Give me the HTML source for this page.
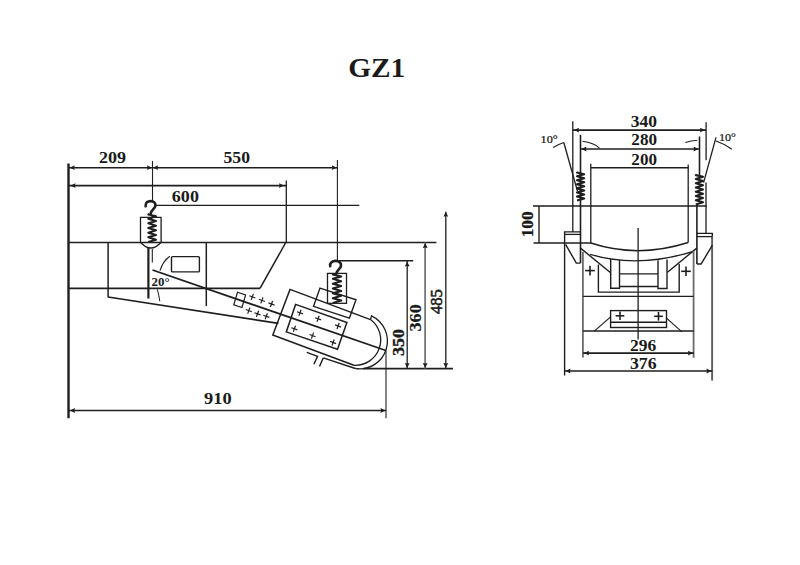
<!DOCTYPE html>
<html><head><meta charset="utf-8"><style>
html,body{margin:0;padding:0;background:#fff;width:800px;height:565px;overflow:hidden}
svg{display:block}
text{font-family:"Liberation Serif",serif;fill:#1a1a1a}
</style></head><body>
<svg width="800" height="565" viewBox="0 0 800 565">
<rect width="800" height="565" fill="#fff"/>
<line x1="68.5" y1="163.5" x2="68.5" y2="418.2" stroke="#1e1e1e" stroke-width="2.4"/>
<line x1="69" y1="167.7" x2="337.3" y2="167.7" stroke="#1e1e1e" stroke-width="1.6"/>
<polygon points="69.7,167.7 74.70,165.30 74.10,167.70 74.70,170.10" fill="#1e1e1e"/>
<polygon points="152,167.7 147.00,170.10 147.60,167.70 147.00,165.30" fill="#1e1e1e"/>
<polygon points="153,167.7 158.00,165.30 157.40,167.70 158.00,170.10" fill="#1e1e1e"/>
<polygon points="336.8,167.7 331.80,170.10 332.40,167.70 331.80,165.30" fill="#1e1e1e"/>
<line x1="152.5" y1="161" x2="152.5" y2="201.5" stroke="#1e1e1e" stroke-width="1.1"/>
<line x1="337.4" y1="160" x2="337.4" y2="261" stroke="#1e1e1e" stroke-width="1.1"/>
<line x1="69" y1="185.6" x2="286.2" y2="185.6" stroke="#1e1e1e" stroke-width="1.6"/>
<polygon points="70.5,185.6 75.50,183.20 74.90,185.60 75.50,188.00" fill="#1e1e1e"/>
<polygon points="284,185.6 279.00,188.00 279.60,185.60 279.00,183.20" fill="#1e1e1e"/>
<line x1="286.3" y1="180.6" x2="286.3" y2="242.5" stroke="#1e1e1e" stroke-width="1.3"/>
<line x1="154.4" y1="205.3" x2="359.3" y2="205.3" stroke="#1e1e1e" stroke-width="1.3"/>
<line x1="68.5" y1="242.5" x2="436.4" y2="242.5" stroke="#1e1e1e" stroke-width="1.7"/>
<line x1="68.5" y1="288.3" x2="260" y2="288.3" stroke="#1e1e1e" stroke-width="1.7"/>
<line x1="260" y1="288.3" x2="285.8" y2="242.5" stroke="#1e1e1e" stroke-width="1.5"/>
<line x1="108.1" y1="242.5" x2="108.1" y2="297.2" stroke="#1e1e1e" stroke-width="1.5"/>
<line x1="206.3" y1="242.5" x2="206.3" y2="306" stroke="#1e1e1e" stroke-width="1.5"/>
<line x1="108.1" y1="297" x2="278.5" y2="323.3" stroke="#1e1e1e" stroke-width="1.7"/>
<rect x="171.5" y="256.6" width="27.9" height="15.3" rx="1" fill="none" stroke="#1e1e1e" stroke-width="1.4"/>
<line x1="148.4" y1="248" x2="148.4" y2="298.5" stroke="#1e1e1e" stroke-width="2.2"/>
<line x1="152.3" y1="249" x2="152.3" y2="262.5" stroke="#1e1e1e" stroke-width="1.1"/>
<path d="M140.5,217.3 L161.1,217.3 L161.1,242.2 Q156,248 150.8,248 Q145.6,248 140.5,242.2 Z" fill="none" stroke="#1e1e1e" stroke-width="1.3"/>
<path d="M149.30,214.00 L148.30,214.47 L156.00,216.33 L148.30,218.67 L156.00,221.00 L148.30,223.33 L156.00,225.67 L148.30,228.00 L156.00,230.33 L148.30,232.67 L156.00,235.00 L148.30,237.33 L156.00,239.67 L148.30,242.00" fill="none" stroke="#1e1e1e" stroke-width="2.0" stroke-linejoin="round"/>
<path d="M145.6,206.3 C145.2,202.6 147.6,201.1 150.6,201.1 C153.9,201.1 155.6,203.1 155.5,205.4 C155.3,208.6 151.2,209.8 150.6,213.8" fill="none" stroke="#1e1e1e" stroke-width="2.6" stroke-linecap="round"/>
<line x1="152.5" y1="270" x2="385.9" y2="350.5" stroke="#1e1e1e" stroke-width="1.8"/>
<path d="M160,270.6 Q163,261 169.8,256.2" fill="none" stroke="#1e1e1e" stroke-width="1.1"/>
<path d="M157.3,289.4 Q159,295 159.8,301.3" fill="none" stroke="#1e1e1e" stroke-width="1.0"/>
<polygon points="237.5,292.25 245.6,295.0 242.0,307.5 233.8,304.8" fill="none" stroke="#1e1e1e" stroke-width="1.2"/>
<line x1="249.29" y1="295.81" x2="255.31" y2="297.99" stroke="#1e1e1e" stroke-width="1.2"/>
<line x1="253.39" y1="293.89" x2="251.21" y2="299.91" stroke="#1e1e1e" stroke-width="1.2"/>
<line x1="258.89" y1="299.31" x2="264.91" y2="301.49" stroke="#1e1e1e" stroke-width="1.2"/>
<line x1="262.99" y1="297.39" x2="260.81" y2="303.41" stroke="#1e1e1e" stroke-width="1.2"/>
<line x1="268.49" y1="302.91" x2="274.51" y2="305.09" stroke="#1e1e1e" stroke-width="1.2"/>
<line x1="272.59" y1="300.99" x2="270.41" y2="307.01" stroke="#1e1e1e" stroke-width="1.2"/>
<line x1="245.79" y1="309.51" x2="251.81" y2="311.69" stroke="#1e1e1e" stroke-width="1.2"/>
<line x1="249.89" y1="307.59" x2="247.71" y2="313.61" stroke="#1e1e1e" stroke-width="1.2"/>
<line x1="254.49" y1="312.71" x2="260.51" y2="314.89" stroke="#1e1e1e" stroke-width="1.2"/>
<line x1="258.59" y1="310.79" x2="256.41" y2="316.81" stroke="#1e1e1e" stroke-width="1.2"/>
<line x1="263.29" y1="315.21" x2="269.31" y2="317.39" stroke="#1e1e1e" stroke-width="1.2"/>
<line x1="267.39" y1="313.29" x2="265.21" y2="319.31" stroke="#1e1e1e" stroke-width="1.2"/>
<polyline points="370.5,319.6 290,289.4 272.8,335 353.9,365.3" fill="none" stroke="#1e1e1e" stroke-width="1.5"/>
<polygon points="295.6,304.4 346.9,322.5 337.5,349.3 286.3,331.9" fill="none" stroke="#1e1e1e" stroke-width="1.5"/>
<line x1="296.99" y1="311.71" x2="303.01" y2="313.89" stroke="#1e1e1e" stroke-width="1.2"/>
<line x1="301.09" y1="309.79" x2="298.91" y2="315.81" stroke="#1e1e1e" stroke-width="1.2"/>
<line x1="315.09" y1="317.71" x2="321.11" y2="319.89" stroke="#1e1e1e" stroke-width="1.2"/>
<line x1="319.19" y1="315.79" x2="317.01" y2="321.81" stroke="#1e1e1e" stroke-width="1.2"/>
<line x1="335.09" y1="324.91" x2="341.11" y2="327.09" stroke="#1e1e1e" stroke-width="1.2"/>
<line x1="339.19" y1="322.99" x2="337.01" y2="329.01" stroke="#1e1e1e" stroke-width="1.2"/>
<line x1="291.39" y1="327.71" x2="297.41" y2="329.89" stroke="#1e1e1e" stroke-width="1.2"/>
<line x1="295.49" y1="325.79" x2="293.31" y2="331.81" stroke="#1e1e1e" stroke-width="1.2"/>
<line x1="309.49" y1="334.51" x2="315.51" y2="336.69" stroke="#1e1e1e" stroke-width="1.2"/>
<line x1="313.59" y1="332.59" x2="311.41" y2="338.61" stroke="#1e1e1e" stroke-width="1.2"/>
<line x1="330.09" y1="341.41" x2="336.11" y2="343.59" stroke="#1e1e1e" stroke-width="1.2"/>
<line x1="334.19" y1="339.49" x2="332.01" y2="345.51" stroke="#1e1e1e" stroke-width="1.2"/>
<polygon points="320,288.1 356,299.8 349.4,318.1 313.5,306.3" fill="none" stroke="#1e1e1e" stroke-width="1.4"/>
<rect x="327.5" y="273.4" width="19" height="29.9" fill="none" stroke="#1e1e1e" stroke-width="1.3"/>
<path d="M333.80,274.00 L332.80,274.48 L341.20,276.42 L332.80,278.83 L341.20,281.25 L332.80,283.67 L341.20,286.08 L332.80,288.50 L341.20,290.92 L332.80,293.33 L341.20,295.75 L332.80,298.17 L341.20,300.58 L332.80,303.00" fill="none" stroke="#1e1e1e" stroke-width="2.0" stroke-linejoin="round"/>
<path d="M330.2,266.2 C329.6,262.5 332.4,260.9 335.6,260.9 C339.2,260.9 341.2,263 341,265.6 C340.8,268.8 336.6,270 336,274.2" fill="none" stroke="#1e1e1e" stroke-width="2.6" stroke-linecap="round"/>
<line x1="338.5" y1="260.8" x2="413.2" y2="260.8" stroke="#1e1e1e" stroke-width="1.5"/>
<path d="M370.5,319.6 A25.4,25.4 0 0 1 353.9,365.3" fill="none" stroke="#1e1e1e" stroke-width="1.3"/>
<path d="M370.5,319.6 L371.5,315.9 A27.8,27.8 0 0 1 355.3,368.5" fill="none" stroke="#1e1e1e" stroke-width="1.3"/>
<line x1="323.3" y1="357.9" x2="355.3" y2="368.5" stroke="#1e1e1e" stroke-width="1.4"/>
<polyline points="306.8,352.3 317.6,356.4 313.9,364.3" fill="none" stroke="#1e1e1e" stroke-width="1.4"/>
<line x1="323.3" y1="357.9" x2="319.5" y2="366.5" stroke="#1e1e1e" stroke-width="1.4"/>
<line x1="386.0" y1="350.5" x2="386.0" y2="418.2" stroke="#1e1e1e" stroke-width="1.1"/>
<line x1="363" y1="368.6" x2="453" y2="368.6" stroke="#1e1e1e" stroke-width="1.7"/>
<line x1="407.2" y1="261" x2="407.2" y2="368.5" stroke="#1e1e1e" stroke-width="1.3"/>
<polygon points="407.2,261.5 409.60,266.50 407.20,265.90 404.80,266.50" fill="#1e1e1e"/>
<polygon points="407.2,368 404.80,363.00 407.20,363.60 409.60,363.00" fill="#1e1e1e"/>
<line x1="425.1" y1="242.5" x2="425.1" y2="368.5" stroke="#707070" stroke-width="1.7"/>
<polygon points="425.2,243 427.60,248.00 425.20,247.40 422.80,248.00" fill="#1e1e1e"/>
<polygon points="425.2,368 422.80,363.00 425.20,363.60 427.60,363.00" fill="#1e1e1e"/>
<line x1="445.8" y1="211.7" x2="445.8" y2="368.5" stroke="#1e1e1e" stroke-width="1.3"/>
<polygon points="445.8,211.7 448.20,216.70 445.80,216.10 443.40,216.70" fill="#1e1e1e"/>
<polygon points="445.8,368 443.40,363.00 445.80,363.60 448.20,363.00" fill="#1e1e1e"/>
<line x1="69" y1="410.5" x2="386.0" y2="410.5" stroke="#1e1e1e" stroke-width="1.6"/>
<polygon points="70,410.5 75.00,408.10 74.40,410.50 75.00,412.90" fill="#1e1e1e"/>
<polygon points="385.5,410.5 380.50,412.90 381.10,410.50 380.50,408.10" fill="#1e1e1e"/>
<line x1="572.8" y1="121.3" x2="572.8" y2="231.9" stroke="#1e1e1e" stroke-width="1.3"/>
<line x1="580.5" y1="134.8" x2="580.5" y2="263.1" stroke="#1e1e1e" stroke-width="1.6"/>
<line x1="590.8" y1="163.8" x2="590.8" y2="243" stroke="#1e1e1e" stroke-width="1.3"/>
<line x1="706.1" y1="122.3" x2="706.1" y2="160.3" stroke="#1e1e1e" stroke-width="1.3"/>
<line x1="706" y1="182.6" x2="706" y2="233.4" stroke="#1e1e1e" stroke-width="1.3"/>
<line x1="699.5" y1="136.5" x2="699.5" y2="176" stroke="#1e1e1e" stroke-width="1.6"/>
<line x1="696.9" y1="204" x2="696.9" y2="264" stroke="#1e1e1e" stroke-width="1.6"/>
<line x1="688.2" y1="164.6" x2="688.2" y2="242.5" stroke="#1e1e1e" stroke-width="1.3"/>
<line x1="573" y1="130.1" x2="706" y2="130.1" stroke="#1e1e1e" stroke-width="1.6"/>
<polygon points="574,130.1 579.00,127.70 578.40,130.10 579.00,132.50" fill="#1e1e1e"/>
<polygon points="705,130.1 700.00,132.50 700.60,130.10 700.00,127.70" fill="#1e1e1e"/>
<line x1="580.5" y1="149" x2="699.5" y2="149" stroke="#1e1e1e" stroke-width="1.6"/>
<polygon points="581.5,149 586.50,146.60 585.90,149.00 586.50,151.40" fill="#1e1e1e"/>
<polygon points="698.5,149 693.50,151.40 694.10,149.00 693.50,146.60" fill="#1e1e1e"/>
<line x1="590.8" y1="167.7" x2="688.2" y2="167.7" stroke="#1e1e1e" stroke-width="1.6"/>
<path d="M582.5,141.3 Q594,143 599.4,148.1" fill="none" stroke="#1e1e1e" stroke-width="1.1"/>
<path d="M685.3,142.5 Q691,140.6 697.3,140.3" fill="none" stroke="#1e1e1e" stroke-width="1.1"/>
<path d="M553.1,147.5 Q558,144.5 563.8,142.5" fill="none" stroke="#1e1e1e" stroke-width="1.1"/>
<line x1="563.8" y1="142.5" x2="577.5" y2="191.3" stroke="#1e1e1e" stroke-width="1.3"/>
<path d="M716,141 Q725,144 731.8,149.3" fill="none" stroke="#1e1e1e" stroke-width="1.1"/>
<line x1="716" y1="137.3" x2="703.6" y2="182.6" stroke="#1e1e1e" stroke-width="1.3"/>
<path d="M578.00,172.20 L577.00,172.60 L584.20,174.22 L577.00,176.24 L584.20,178.26 L577.00,180.29 L584.20,182.31 L577.00,184.33 L584.20,186.35 L577.00,188.37 L584.20,190.39 L577.00,192.41 L584.20,194.44 L577.00,196.46 L584.20,198.48 L577.00,200.50" fill="none" stroke="#1e1e1e" stroke-width="2.1" stroke-linejoin="round"/>
<path d="M696.80,174.70 L695.80,175.12 L703.00,176.82 L695.80,178.94 L703.00,181.06 L695.80,183.19 L703.00,185.31 L695.80,187.43 L703.00,189.55 L695.80,191.67 L703.00,193.79 L695.80,195.91 L703.00,198.04 L695.80,200.16 L703.00,202.28 L695.80,204.40" fill="none" stroke="#1e1e1e" stroke-width="2.1" stroke-linejoin="round"/>
<line x1="533" y1="206" x2="706.8" y2="206" stroke="#1e1e1e" stroke-width="1.5"/>
<line x1="533.5" y1="242.9" x2="590.8" y2="242.9" stroke="#1e1e1e" stroke-width="1.5"/>
<line x1="539" y1="206" x2="539" y2="242.9" stroke="#1e1e1e" stroke-width="1.4"/>
<polyline points="564.6,375.6 564.6,231.9 580.5,231.9" fill="none" stroke="#1e1e1e" stroke-width="1.4"/>
<line x1="564.6" y1="234.4" x2="580.5" y2="234.4" stroke="#1e1e1e" stroke-width="1.3"/>
<polyline points="565.6,244.4 576.3,263.1 580.5,263.1" fill="none" stroke="#1e1e1e" stroke-width="1.4"/>
<line x1="712.1" y1="236.6" x2="712.1" y2="380.6" stroke="#5e5e5e" stroke-width="1.9"/>
<polyline points="712.3,236.6 712.3,233.4 696.9,233.4" fill="none" stroke="#1e1e1e" stroke-width="1.4"/>
<line x1="696.9" y1="236.6" x2="712.3" y2="236.6" stroke="#1e1e1e" stroke-width="1.3"/>
<polyline points="712.3,245.3 701.1,264 696.9,264" fill="none" stroke="#1e1e1e" stroke-width="1.4"/>
<path d="M590.8,243 Q638,258.5 688.2,242.5" fill="none" stroke="#1e1e1e" stroke-width="1.5"/>
<path d="M590.2,254.4 Q638,268.6 692.5,251.6" fill="none" stroke="#1e1e1e" stroke-width="1.4"/>
<line x1="580.5" y1="248.1" x2="610.6" y2="272.8" stroke="#1e1e1e" stroke-width="1.4"/>
<line x1="696.8" y1="248.1" x2="667.5" y2="272.2" stroke="#1e1e1e" stroke-width="1.4"/>
<line x1="638.1" y1="228.1" x2="638.1" y2="339.4" stroke="#1e1e1e" stroke-width="1.3"/>
<line x1="582.9" y1="251.9" x2="582.9" y2="357.5" stroke="#6a6a6a" stroke-width="1.8"/>
<line x1="693.6" y1="251.3" x2="693.6" y2="357.8" stroke="#6a6a6a" stroke-width="1.8"/>
<polyline points="598.4,264.6 598.4,292.1 679.2,292.1 679.2,264" fill="none" stroke="#1e1e1e" stroke-width="1.4"/>
<polyline points="610.7,259 610.7,288.2 619.5,288.2 619.5,260" fill="none" stroke="#1e1e1e" stroke-width="1.4"/>
<polyline points="658,260.3 658,288.5 667,288.5 667,259.5" fill="none" stroke="#1e1e1e" stroke-width="1.4"/>
<line x1="619.5" y1="273.9" x2="658" y2="273.9" stroke="#1e1e1e" stroke-width="1.4"/>
<line x1="619.5" y1="286.5" x2="658" y2="286.5" stroke="#1e1e1e" stroke-width="1.4"/>
<line x1="585.2" y1="270.6" x2="594.8" y2="270.6" stroke="#1e1e1e" stroke-width="1.6"/>
<line x1="590.0" y1="265.8" x2="590.0" y2="275.4" stroke="#1e1e1e" stroke-width="1.6"/>
<line x1="681.2" y1="271.3" x2="690.8" y2="271.3" stroke="#1e1e1e" stroke-width="1.6"/>
<line x1="686.0" y1="266.5" x2="686.0" y2="276.1" stroke="#1e1e1e" stroke-width="1.6"/>
<line x1="583.1" y1="296.4" x2="693.6" y2="296.4" stroke="#1e1e1e" stroke-width="1.4"/>
<rect x="610.6" y="310.6" width="55.9" height="16.9" fill="none" stroke="#1e1e1e" stroke-width="1.4"/>
<line x1="610.6" y1="322.3" x2="666.5" y2="322.3" stroke="#1e1e1e" stroke-width="1.4"/>
<line x1="615.7" y1="315.8" x2="624.3" y2="315.8" stroke="#1e1e1e" stroke-width="1.6"/>
<line x1="620.0" y1="311.5" x2="620.0" y2="320.1" stroke="#1e1e1e" stroke-width="1.6"/>
<line x1="654.2" y1="316.3" x2="662.8" y2="316.3" stroke="#1e1e1e" stroke-width="1.6"/>
<line x1="658.5" y1="312.0" x2="658.5" y2="320.6" stroke="#1e1e1e" stroke-width="1.6"/>
<line x1="610.6" y1="316.9" x2="594.4" y2="331.1" stroke="#1e1e1e" stroke-width="1.2"/>
<line x1="666.5" y1="318.1" x2="681.9" y2="331.9" stroke="#1e1e1e" stroke-width="1.2"/>
<line x1="583.1" y1="331.1" x2="693.8" y2="331.1" stroke="#1e1e1e" stroke-width="1.5"/>
<line x1="583.1" y1="353.1" x2="693.8" y2="353.1" stroke="#1e1e1e" stroke-width="1.6"/>
<polygon points="584,353.1 589.00,350.70 588.40,353.10 589.00,355.50" fill="#1e1e1e"/>
<polygon points="693,353.1 688.00,355.50 688.60,353.10 688.00,350.70" fill="#1e1e1e"/>
<line x1="564.6" y1="371" x2="712.3" y2="371" stroke="#1e1e1e" stroke-width="1.6"/>
<polygon points="565.5,371 570.50,368.60 569.90,371.00 570.50,373.40" fill="#1e1e1e"/>
<polygon points="711.4,371 706.40,373.40 707.00,371.00 706.40,368.60" fill="#1e1e1e"/>
<text transform="translate(99.08 163.41) scale(1.046 1)" font-size="17.24" font-family="Liberation Serif" font-weight="bold">209</text>
<text transform="translate(223.49 163.41) scale(1.043 1)" font-size="16.94" font-family="Liberation Serif" font-weight="bold">550</text>
<text transform="translate(171.86 202.25) scale(1.042 1)" font-size="17.31" font-family="Liberation Serif" font-weight="bold">600</text>
<text transform="translate(204.05 403.65) scale(1.042 1)" font-size="17.65" font-family="Liberation Serif" font-weight="bold">910</text>
<text transform="translate(403.66 356.12) rotate(-90) scale(1.054 1)" font-size="17.16" font-family="Liberation Serif" font-weight="bold" stroke="#1a1a1a" stroke-width="0.35">350</text>
<text transform="translate(420.87 331.42) rotate(-90) scale(1.102 1)" font-size="16.42" font-family="Liberation Serif" font-weight="bold" stroke="#1a1a1a" stroke-width="0.2">360</text>
<text transform="translate(441.96 314.03) rotate(-90) scale(0.980 1)" font-size="16.87" font-family="Liberation Serif" font-weight="normal" stroke="#1a1a1a" stroke-width="0.55">485</text>
<text transform="translate(348.23 76.73) scale(1.092 1)" font-size="26.87" font-family="Liberation Serif" font-weight="bold">GZ1</text>
<text transform="translate(0 0.5) translate(151.58 285.45) scale(1.038 1)" font-size="12.43" font-family="Liberation Serif" font-weight="bold">20°</text>
<text transform="translate(630.70 127.08) scale(1.088 1)" font-size="16.12" font-family="Liberation Serif" font-weight="bold">340</text>
<text transform="translate(631.32 145.48) scale(1.072 1)" font-size="15.97" font-family="Liberation Serif" font-weight="bold">280</text>
<text transform="translate(631.32 164.95) scale(0.972 1)" font-size="17.61" font-family="Liberation Serif" font-weight="bold">200</text>
<text transform="translate(0 0.5) translate(629.90 350.93) scale(1.100 1)" font-size="15.90" font-family="Liberation Serif" font-weight="bold">296</text>
<text transform="translate(0 0.7) translate(629.89 368.43) scale(1.117 1)" font-size="15.90" font-family="Liberation Serif" font-weight="bold">376</text>
<text transform="translate(533.27 237.29) rotate(-90) scale(1.052 1)" font-size="16.47" font-family="Liberation Serif" font-weight="bold" stroke="#1a1a1a" stroke-width="0.3">100</text>
<text transform="translate(540.60 142.58) scale(1.094 1)" font-size="11.18" font-family="Liberation Serif" font-weight="normal" stroke="#1a1a1a" stroke-width="0.25">10°</text>
<text transform="translate(719.01 140.78) scale(1.079 1)" font-size="11.18" font-family="Liberation Serif" font-weight="normal" stroke="#1a1a1a" stroke-width="0.25">10°</text>
</svg></body></html>
